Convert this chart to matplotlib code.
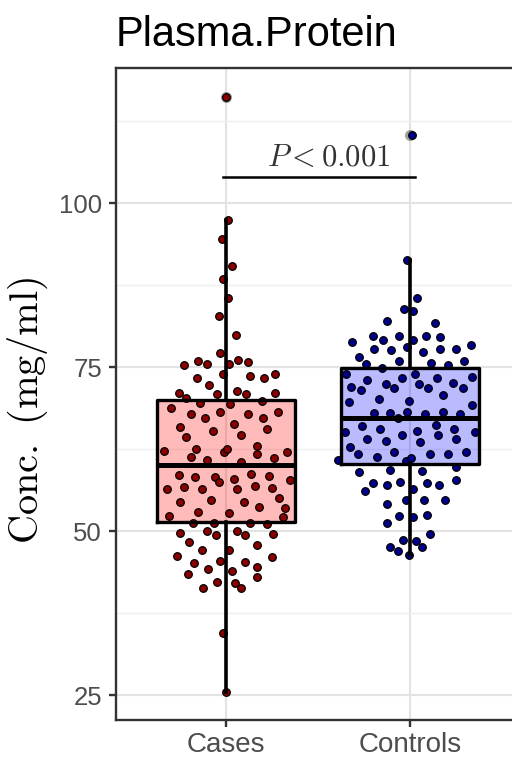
import numpy as np
import matplotlib
matplotlib.use('Agg')
import matplotlib.pyplot as plt

plt.rcParams['font.family'] = ['Liberation Sans', 'DejaVu Sans']
plt.rcParams['mathtext.fontset'] = 'cm'

groups = ['Cases', 'Controls']

# jittered points: horizontal offset from group centre, value
cases_val = [97.5, 94.5, 90.4, 88.4, 85.5, 82.8, 79.9, 77.1, 76.0, 75.5,
             75.3, 75.4, 76.1, 75.8, 73.9, 73.4, 73.7, 73.3, 73.9, 72.2,
             71.0, 70.9, 71.4, 70.9, 71.0, 70.3, 69.6, 69.3, 69.9, 68.7,
             67.8, 68.1, 67.8, 68.1, 67.2, 67.3, 65.8, 66.3, 65.2, 65.5,
             64.4, 64.7, 62.2, 62.5, 62.1, 62.5, 63.0, 61.7, 62.1, 61.3,
             60.9, 60.5, 61.2, 58.5, 58.2, 58.2, 57.9, 58.7, 58.4, 57.8,
             56.4, 56.7, 56.4, 57.5, 56.4, 56.9, 56.5, 54.5, 54.7, 54.5,
             53.6, 55.0, 53.5, 52.3, 52.9, 52.7, 52.2, 51.3, 51.2, 51.2,
             51.1, 49.7, 50.0, 49.4, 50.0, 49.4, 49.6, 48.3, 47.9, 47.1,
             47.1, 46.2, 46.0, 45.2, 45.4, 45.3, 44.5, 44.2, 43.9, 43.4,
             43.0, 42.3, 42.1, 41.4, 41.4, 34.4, 25.4, 116.2]
cases_dx = [0.012, -0.023, 0.029, -0.018, 0.009, -0.038, 0.054, -0.034, -0.151, -0.105,
            -0.232, 0.016, 0.064, 0.118, -0.016, -0.159, 0.127, 0.205, 0.266, -0.091,
            -0.255, -0.051, 0.061, 0.107, 0.266, -0.217, -0.141, 0.022, 0.194, -0.299,
            -0.192, -0.034, 0.121, 0.284, -0.113, 0.199, -0.254, 0.043, -0.072, 0.224,
            -0.217, 0.080, -0.341, -0.163, -0.011, 0.007, 0.167, 0.167, 0.330, -0.192,
            -0.102, 0.080, 0.261, -0.259, -0.168, -0.060, 0.040, 0.134, 0.234, 0.348,
            -0.322, -0.232, -0.132, -0.038, 0.058, 0.159, 0.252, -0.250, -0.082, 0.099,
            0.176, 0.288, 0.321, -0.314, -0.156, 0.013, 0.308, -0.183, -0.069, 0.130,
            0.221, -0.254, -0.102, -0.056, 0.061, 0.103, 0.257, -0.205, 0.167, -0.129,
            0.018, -0.268, 0.248, -0.174, -0.036, 0.105, 0.167, -0.099, 0.034, -0.210,
            0.170, -0.051, 0.049, 0.082, -0.127, -0.015, 0.000, 0.000]

controls_val = [91.4, 85.5, 83.9, 83.6, 82.1, 81.7, 79.7, 79.8, 79.1, 79.8,
                79.6, 79.1, 78.9, 78.3, 77.8, 77.6, 78.1, 77.3, 77.8, 77.7,
                76.6, 75.4, 75.9, 75.6, 75.3, 75.9, 74.9, 73.9, 74.0, 73.0,
                73.4, 73.3, 73.5, 72.0, 71.5, 72.5, 71.8, 72.5, 71.8, 72.6,
                71.8, 70.2, 69.9, 70.7, 69.7, 69.2, 68.0, 68.0, 67.2, 68.1,
                67.9, 68.1, 67.9,
                66.0, 65.5, 64.7, 65.2, 66.2, 65.5, 65.1, 65.1, 64.0, 63.8,
                63.6, 64.7, 64.0, 62.8, 61.8, 62.1, 61.8, 61.7, 62.1, 60.8,
                61.3, 60.7, 61.2,
                59.0, 59.3, 59.2, 59.8, 57.3, 57.0, 57.5, 57.4, 57.0, 57.8,
                56.1, 56.4, 54.8, 54.8, 54.8, 54.1, 52.3, 52.1, 52.5, 51.2,
                49.5, 48.7, 48.5, 47.6, 47.0, 47.5, 46.3, 110.4]
controls_dx = [-0.013, 0.040, -0.033, 0.018, -0.123, 0.138, -0.203, -0.058, -0.148, 0.087,
               0.163, 0.015, -0.317, 0.335, -0.196, -0.105, -0.018, 0.072, 0.163, 0.250,
               -0.279, -0.239, -0.058, 0.118, 0.208, 0.295, -0.152, -0.348, 0.027, -0.232,
               -0.040, 0.148, 0.341, -0.319, -0.265, -0.130, -0.087, 0.051, 0.099, 0.235,
               0.290, -0.167, -0.004, 0.178, -0.330, 0.339, -0.196, -0.109, -0.064, -0.015,
               0.082, 0.178, 0.272,
               -0.263, -0.163, -0.040, 0.040, 0.141, 0.239, 0.353, -0.353, -0.235, -0.130,
               0.058, 0.154, 0.254, -0.326, -0.281, -0.085, 0.109, 0.208, 0.304, -0.390,
               -0.181, -0.022, 0.009,
               -0.276, -0.109, 0.064, 0.254, -0.203, -0.123, -0.054, 0.091, 0.159, 0.250,
               -0.245, 0.018, -0.022, 0.078, 0.190, -0.123, -0.058, 0.018, 0.096, -0.123,
               0.109, -0.036, 0.036, -0.109, -0.064, 0.069, -0.004, 0.010]

# box statistics
q1 = [51.4, 60.3]
med = [60.0, 67.3]
q3 = [70.0, 74.8]
whislo = [25.4, 46.3]
whishi = [97.5, 91.4]
fliers = [[116.2], [110.4]]

box_fill = [(1.0, 0.0, 0.0, 0.27), (0.0, 0.0, 1.0, 0.27)]
dot_color = ['#8b0000', '#00008b']

p_label = r'$P<0.001$'
bar_x = [0.985, 2.03]
bar_y = 104.0

fig = plt.figure(figsize=(5.12, 7.62), dpi=100)
ax = fig.add_axes([116 / 512, 1 - 720 / 762, 404 / 512, 652 / 762])

stats = []
for i in range(2):
    stats.append(dict(q1=q1[i], med=med[i], q3=q3[i], whislo=whislo[i],
                      whishi=whishi[i], fliers=fliers[i], label=groups[i]))

pos = [1, 2]
# filled boxes underneath the dots
bp = ax.bxp(stats, positions=pos, widths=0.75, patch_artist=True, showcaps=False,
            showfliers=True,
            boxprops=dict(linewidth=0),
            whiskerprops=dict(linewidth=0),
            medianprops=dict(linewidth=0),
            flierprops=dict(marker='o', markersize=8, markerfacecolor='#444444',
                            markeredgecolor='none', alpha=0.5),
            zorder=1)
for patch, c in zip(bp['boxes'], box_fill):
    patch.set_facecolor(c)

# jittered points
ax.scatter(1 + np.array(cases_dx), cases_val, s=30, color=dot_color[0],
           edgecolors='black', linewidths=0.9, zorder=2)
ax.scatter(2 + np.array(controls_dx), controls_val, s=30, color=dot_color[1],
           edgecolors='black', linewidths=0.9, zorder=2)

# box outlines on top
ax.bxp(stats, positions=pos, widths=0.75, showcaps=False, showfliers=False,
       boxprops=dict(color='black', linewidth=2.4),
       whiskerprops=dict(color='black', linewidth=2.6),
       medianprops=dict(color='black', linewidth=3.6),
       zorder=3)

# significance bar
ax.plot(bar_x, [bar_y, bar_y], color='black', lw=1.8, zorder=3)
ax.text(1.56, bar_y + 0.6, p_label, ha='center', va='bottom', fontsize=22,
        color='#333333', zorder=3)

ax.set_xlim(0.4, 2.6)
ax.set_ylim(21.2, 120.6)
ax.set_xticks(pos)
ax.set_xticklabels(groups)
ax.set_yticks([25, 50, 75, 100])
ax.set_yticks([37.5, 62.5, 87.5, 112.5], minor=True)
ax.grid(True, which='major', color='#e3e3e3', lw=1.5, zorder=0)
ax.grid(True, which='minor', axis='y', color='#efefef', lw=1.0, zorder=0)
ax.set_axisbelow(True)
ax.tick_params(axis='both', which='major', length=5, width=1.7, color='#333333',
               labelcolor='#4d4d4d', pad=5)
ax.tick_params(axis='x', labelsize=20, pad=4)
ax.tick_params(axis='y', labelsize=18.5)
ax.tick_params(which='minor', length=0)
for s in ['left', 'top', 'bottom']:
    ax.spines[s].set_color('#333333')
    ax.spines[s].set_linewidth(1.7)
ax.spines['right'].set_visible(False)

fig.text(28 / 512, 1 - 410 / 762, r'$\mathrm{Conc.\ (mg/ml)}$', fontsize=29,
         rotation=90, ha='center', va='center', color='black')

fig.text(116 / 512, 1 - 46 / 762, 'Plasma.Protein', fontsize=30, ha='left',
         va='baseline', color='black')

fig.savefig('out.png', dpi=100)
